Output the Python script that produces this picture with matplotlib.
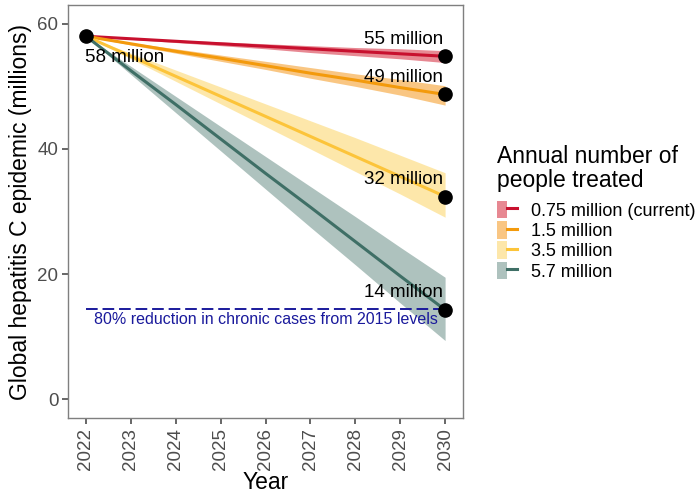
import matplotlib
matplotlib.use("Agg")
import matplotlib.pyplot as plt
from matplotlib.patches import Patch
from matplotlib.lines import Line2D
from matplotlib.legend_handler import HandlerTuple

plt.rcParams['font.family'] = ['Liberation Sans', 'DejaVu Sans']

years = [2022, 2023, 2024, 2025, 2026, 2027, 2028, 2029, 2030]
series_names = ["0.75 million (current)", "1.5 million", "3.5 million", "5.7 million"]

red_mid = [58.0, 57.6, 57.2, 56.8, 56.4, 56.0, 55.6, 55.2, 54.8]
red_lo = [58.0, 57.5, 57.0, 56.5, 56.0, 55.4, 54.9, 54.4, 53.8]
red_hi = [58.0, 57.7, 57.4, 57.1, 56.8, 56.5, 56.2, 56.0, 55.7]

orange_mid = [58.0, 56.8, 55.6, 54.5, 53.3, 52.1, 51.0, 49.8, 48.7]
orange_lo = [58.0, 56.6, 55.3, 54.0, 52.7, 51.3, 50.0, 48.6, 47.0]
orange_hi = [58.0, 57.0, 56.0, 55.0, 54.0, 53.0, 52.0, 51.1, 50.1]

yellow_mid = [58.0, 54.8, 51.6, 48.4, 45.2, 42.0, 38.8, 35.6, 32.4]
yellow_lo = [58.0, 54.4, 50.8, 47.2, 43.6, 40.0, 36.4, 32.8, 29.1]
yellow_hi = [58.0, 55.3, 52.6, 49.9, 47.2, 44.5, 41.8, 39.0, 36.2]

green_mid = [58.0, 52.5, 47.1, 41.6, 36.1, 30.7, 25.2, 19.7, 14.3]
green_lo = [58.0, 51.9, 45.8, 39.7, 33.6, 27.5, 21.5, 15.4, 9.4]
green_hi = [58.0, 53.2, 48.4, 43.6, 38.8, 34.0, 29.2, 24.3, 19.5]

start_label = "58 million"
end_labels = ["55 million", "49 million", "32 million", "14 million"]
target_value = 14.4
target_text = "80% reduction in chronic cases from 2015 levels"
legend_title = "Annual number of\npeople treated"

line_colors = ["#c8102e", "#f39a0c", "#fcc43a", "#3f6f66"]
band_colors = ["#e0606e", "#f7b45a", "#fde08e", "#93aea8"]

mids = [red_mid, orange_mid, yellow_mid, green_mid]
los = [red_lo, orange_lo, yellow_lo, green_lo]
his = [red_hi, orange_hi, yellow_hi, green_hi]

fig = plt.figure(figsize=(6.98, 4.96), dpi=100)
ax = fig.add_axes([0.0974, 0.157, 0.566, 0.833])

for mid, lo, hi, lc, bc in zip(mids, los, his, line_colors, band_colors):
    ax.fill_between(years, lo, hi, color=bc, alpha=0.75, linewidth=0)
    ax.plot(years, mid, color=lc, linewidth=2.2)

ax.plot([years[0], years[-1]], [target_value, target_value], color="#1a1a9c",
        linestyle=(0, (6, 2.5)), linewidth=1.4)
ax.text((years[0] + years[-1]) / 2, target_value - 0.4, target_text, color="#1a1a9c",
        fontsize=11.5, ha="center", va="top")

ax.plot([years[0]], [red_mid[0]], 'o', color="black", markersize=9.5, zorder=5)
for mid in mids:
    ax.plot([years[-1]], [mid[-1]], 'o', color="black", markersize=9.5, zorder=5)

ax.text(years[0] - 0.02, red_mid[0] - 3.4, start_label, fontsize=13.5, ha="left", va="center")
for mid, lab in zip(mids, end_labels):
    ax.text(years[-1] - 0.05, mid[-1] + 2.7, lab, fontsize=13.5, ha="right", va="center")

ax.set_xlim(2021.6, 2030.4)
ax.set_ylim(-3, 63)
ax.set_xticks(years)
ax.set_xticklabels([str(y) for y in years], rotation=90)
ax.set_yticks([0, 20, 40, 60])
for s in ax.spines.values():
    s.set_color("#7f7f7f")
    s.set_linewidth(1.0)
ax.tick_params(colors="#4d4d4d", labelsize=13.5, length=4, width=1.2, pad=3)
ax.set_xlabel("Year", fontsize=16.5, labelpad=1)
ax.set_ylabel("Global hepatitis C epidemic (millions)", fontsize=16.5, labelpad=4)

fig.text(497 / 698, 1 - 145 / 496, legend_title, fontsize=16.5, ha="left", va="top",
         linespacing=1.05)

handles = [(Patch(facecolor=bc, alpha=0.75, edgecolor='none'),
            Line2D([0], [0], color=lc, linewidth=2.2))
           for lc, bc in zip(line_colors, band_colors)]
leg = fig.legend(handles, series_names, handler_map={tuple: HandlerTuple(ndivide=None, pad=0)},
                 loc="upper left", bbox_to_anchor=(497 / 698, 1 - 201 / 496), frameon=False,
                 fontsize=13, handlelength=1.1, handleheight=1.1, handletextpad=0.8,
                 labelspacing=0.08, borderpad=0, borderaxespad=0)

fig.savefig("out.png", dpi=100)
